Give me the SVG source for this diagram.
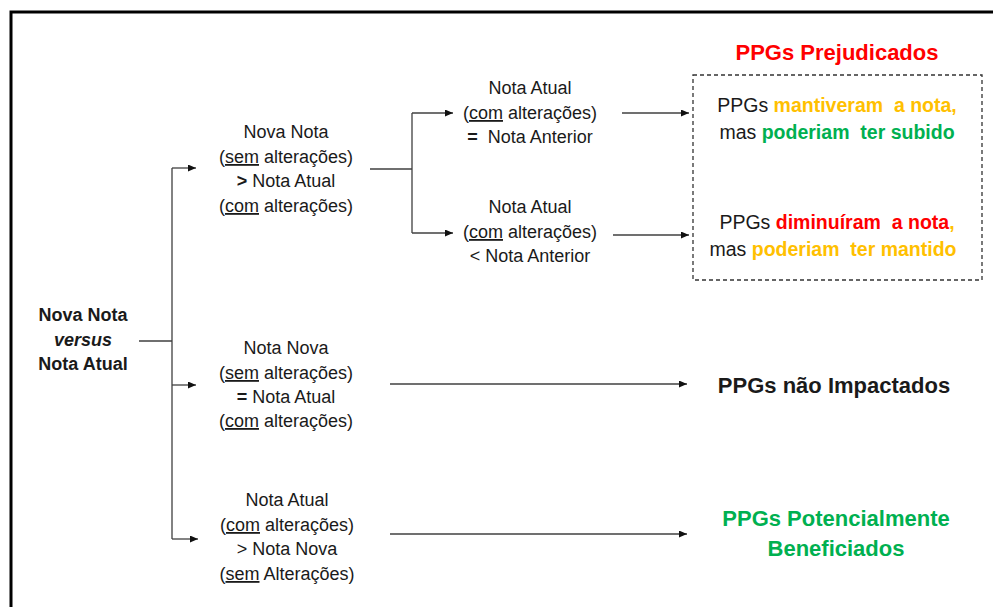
<svg xmlns="http://www.w3.org/2000/svg" width="993" height="607" viewBox="0 0 993 607">
<style>
text{font-family:"Liberation Sans",Arial,sans-serif;font-size:18px;fill:#1a1a1a;text-anchor:middle}
.b{font-weight:bold}
.u{text-decoration:underline}
.t{font-size:22px;font-weight:bold}
.bx{font-size:19.5px}
.red{fill:#FF0000}
.org{fill:#FFC000}
.grn{fill:#00B050}
.c{fill:none;stroke:#404040;stroke-width:1.3}
</style>
<defs>
<marker id="ah" markerUnits="userSpaceOnUse" markerWidth="9" markerHeight="8" refX="8" refY="3.5" orient="auto">
<path d="M0,0 L8,3.5 L0,7 z" fill="#111"/>
</marker>
</defs>
<rect x="0" y="0" width="993" height="607" fill="#fff"/>
<rect id="frame" x="11" y="12" width="1000" height="620" fill="none" stroke="#000" stroke-width="3"/>

<g id="connectors">
<path class="c" d="M139 341 H172 M172 168 V539 M370 169 H412 M412 113 V233"/>
<path class="c" d="M172 168 H196" marker-end="url(#ah)"/>
<path class="c" d="M172 385 H196" marker-end="url(#ah)"/>
<path class="c" d="M172 539 H198" marker-end="url(#ah)"/>
<path class="c" d="M412 113 H453" marker-end="url(#ah)"/>
<path class="c" d="M412 233 H453" marker-end="url(#ah)"/>
<path class="c" d="M622 113 H689" marker-end="url(#ah)"/>
<path class="c" d="M613 235 H689" marker-end="url(#ah)"/>
<path class="c" d="M390 384 H687" marker-end="url(#ah)"/>
<path class="c" d="M390 534 H687" marker-end="url(#ah)"/>
</g>

<g id="root">
<text class="b" x="83" y="321">Nova Nota</text>
<text class="b" x="83" y="346" font-style="italic">versus</text>
<text class="b" x="83" y="370">Nota Atual</text>
</g>

<g id="n1">
<text x="286" y="138">Nova Nota</text>
<text x="286" y="163">(<tspan class="u">sem</tspan> alterações)</text>
<text x="286" y="187"><tspan class="b">&gt;</tspan> Nota Atual</text>
<text x="286" y="212">(<tspan class="u">com</tspan> alterações)</text>
</g>

<g id="n2">
<text x="286" y="354">Nota Nova</text>
<text x="286" y="379">(<tspan class="u">sem</tspan> alterações)</text>
<text x="286" y="403"><tspan class="b">=</tspan> Nota Atual</text>
<text x="286" y="427">(<tspan class="u">com</tspan> alterações)</text>
</g>

<g id="n3">
<text x="287" y="506">Nota Atual</text>
<text x="287" y="531">(<tspan class="u">com</tspan> alterações)</text>
<text x="287" y="555">&gt; Nota Nova</text>
<text x="287" y="580">(<tspan class="u">sem</tspan> Alterações)</text>
</g>

<g id="nA">
<text x="530" y="94">Nota Atual</text>
<text x="530" y="119">(<tspan class="u">com</tspan> alterações)</text>
<text x="530" y="143" xml:space="preserve"><tspan class="b">=</tspan>  Nota Anterior</text>
</g>

<g id="nB">
<text x="530" y="213">Nota Atual</text>
<text x="530" y="238">(<tspan class="u">com</tspan> alterações)</text>
<text x="530" y="262">&lt; Nota Anterior</text>
</g>

<g id="prejudicados">
<text class="t red" x="837" y="60">PPGs Prejudicados</text>
<rect x="693" y="75" width="289" height="205" fill="none" stroke="#333" stroke-width="1.3" stroke-dasharray="4,3"/>
<text class="bx" x="837" y="112" xml:space="preserve">PPGs <tspan class="b org">mantiveram  a nota,</tspan></text>
<text class="bx" x="837" y="139" xml:space="preserve">mas <tspan class="b grn">poderiam  ter subido</tspan></text>
<text class="bx" x="837" y="229" xml:space="preserve">PPGs <tspan class="b red">diminuíram  a nota</tspan><tspan class="b org">,</tspan></text>
<text class="bx" x="833" y="256" xml:space="preserve">mas <tspan class="b org">poderiam  ter mantido</tspan></text>
</g>

<g id="naoimpactados">
<text class="t" x="834" y="393">PPGs não Impactados</text>
</g>

<g id="beneficiados">
<text class="t grn" x="836" y="526">PPGs Potencialmente</text>
<text class="t grn" x="836" y="556">Beneficiados</text>
</g>
</svg>
